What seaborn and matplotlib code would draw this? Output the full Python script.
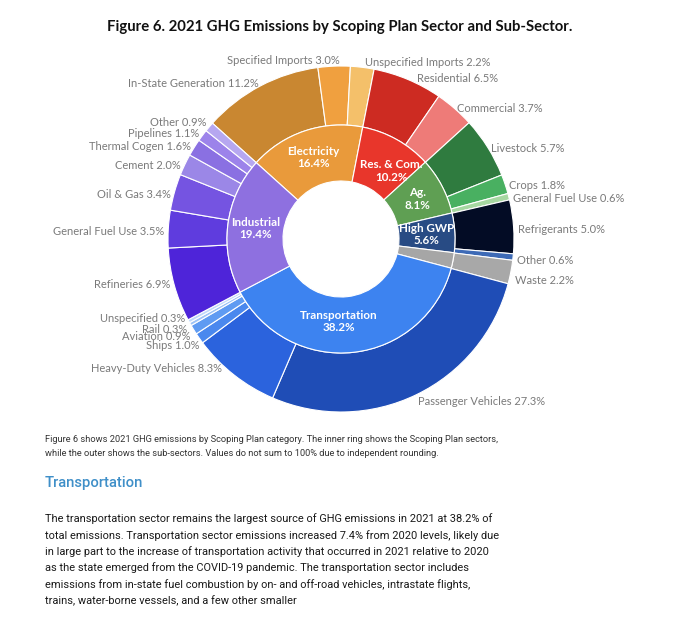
import numpy as np
import pandas as pd
import matplotlib.pyplot as plt
import seaborn as sns

# inner ring: Scoping Plan sectors (clockwise order)
sectors = ['Electricity', 'Res. & Com.', 'Ag.', 'High GWP', 'Waste', 'Transportation', 'Industrial']
sector_pct = [16.4, 10.2, 8.1, 5.6, 2.2, 38.2, 19.4]
sector_colors = ['#E99A3B', '#E8362B', '#5F9F53', '#284B84', '#A6A6A6', '#3D83F0', '#8E70E0']

# outer ring: sub-sectors (same clockwise order)
sub_sectors = ['In-State Generation', 'Specified Imports', 'Unspecified Imports',
               'Residential', 'Commercial',
               'Livestock', 'Crops', 'General Fuel Use',
               'Refrigerants', 'Other',
               'Waste',
               'Passenger Vehicles', 'Heavy-Duty Vehicles', 'Ships', 'Aviation', 'Rail', 'Unspecified',
               'Refineries', 'General Fuel Use', 'Oil & Gas', 'Cement', 'Thermal Cogen', 'Pipelines', 'Other']
sub_pct = [11.2, 3.0, 2.2,
           6.5, 3.7,
           5.7, 1.8, 0.6,
           5.0, 0.6,
           2.2,
           27.3, 8.3, 1.0, 0.9, 0.3, 0.3,
           6.9, 3.5, 3.4, 2.0, 1.6, 1.1, 0.9]
sub_colors = ['#C98731', '#F0A03F', '#F4C06A',
              '#CD2B22', '#EE7B78',
              '#2F7B3F', '#49B061', '#A6D7A1',
              '#030C25', '#3D6AB6',
              '#A8A8A8',
              '#1F4DB6', '#2B63DD', '#4A88EE', '#5F9BF2', '#9DC3F6', '#BFD9FA',
              '#4E24D9', '#5F3CDE', '#7554E1', '#9B87E7', '#8A70E2', '#9C83EA', '#B6A7F0']

title = 'Figure 6. 2021 GHG Emissions by Scoping Plan Sector and Sub-Sector.'
caption = ['Figure 6 shows 2021 GHG emissions by Scoping Plan category. The inner ring shows the Scoping Plan sectors,',
           'while the outer shows the sub-sectors. Values do not sum to 100% due to independent rounding.']
heading = 'Transportation'
paragraph = ['The transportation sector remains the largest source of GHG emissions in 2021 at 38.2% of',
             'total emissions. Transportation sector emissions increased 7.4% from 2020 levels, likely due',
             'in large part to the increase of transportation activity that occurred in 2021 relative to 2020',
             'as the state emerged from the COVID-19 pandemic. The transportation sector includes',
             'emissions from in-state fuel combustion by on- and off-road vehicles, intrastate flights,',
             'trains, water-borne vessels, and a few other smaller']

W, H = 680, 633
CX, CY = 341, 239          # chart centre, pixels from top
R_OUT, R_MID, R_IN = 173, 114, 58
R_LAB = 177

sns.set_theme(style='white')
plt.rcParams['font.family'] = ['Lato', 'DejaVu Sans']
body_font = 'Roboto'

fig = plt.figure(figsize=(W / 100, H / 100), dpi=100)
ax = fig.add_axes([0, 0, 1, 1])
renderer = fig.canvas.get_renderer()


def fit_size(s, width, **kw):
    """Font size that makes s about width pixels wide."""
    t = ax.text(0, 0, s, fontsize=10, **kw)
    w = t.get_window_extent(renderer).width
    t.remove()
    return 10 * width / w


wedge_kw = dict(edgecolor='white', linewidth=0.8)
outer, _ = ax.pie(sub_pct, colors=sub_colors, startangle=138, counterclock=False,
                  radius=R_OUT, center=(CX, H - CY), wedgeprops=dict(width=R_OUT - R_MID, **wedge_kw))
inner, _ = ax.pie(sector_pct, colors=sector_colors, startangle=138, counterclock=False,
                  radius=R_MID, center=(CX, H - CY), wedgeprops=dict(width=R_MID - R_IN, **wedge_kw))
ax.set_xlim(0, W)
ax.set_ylim(0, H)
ax.set_aspect('equal')
ax.axis('off')

# outer labels just outside each wedge; nudges in pixels (right, down)
lab_size = fit_size('In-State Generation 11.2%', 130)
nudge = {0: (0, -2), 1: (6, -5), 2: (2, -4), 3: (8, 0),
         10: (0, 5), 12: (-9, -13), 13: (3, 2), 14: (0, 2), 16: (0, -8), 17: (0, -5),
         21: (0, -2), 22: (0, -3), 23: (0, -5)}
for i, (w, name, pct) in enumerate(zip(outer, sub_sectors, sub_pct)):
    a = np.deg2rad((w.theta1 + w.theta2) / 2)
    dx, dy = nudge.get(i, (0, 0))
    x = CX + R_LAB * np.cos(a) + dx
    y = (H - CY - 3) + R_LAB * np.sin(a) - dy
    ax.text(x, y, f'{name} {pct:.1f}%', fontsize=lab_size, color='#7A7A7A',
            ha='left' if np.cos(a) > 0 else 'right', va='center')

# inner labels
in_size = fit_size('Transportation', 77, fontweight='bold')
in_nudge = {1: (8, 7), 5: (-12, -3)}
for i, (w, name, pct) in enumerate(zip(inner, sectors, sector_pct)):
    if name == 'Waste':
        continue
    a = np.deg2rad((w.theta1 + w.theta2) / 2)
    dx, dy = in_nudge.get(i, (0, 0))
    x = CX + 86 * np.cos(a) + dx
    y = (H - CY) + 86 * np.sin(a) - dy
    ax.text(x, y, f'{name}\n{pct:.1f}%', fontsize=in_size, color='white',
            fontweight='bold', ha='center', va='center', linespacing=1.15)

# title
t_size = fit_size(title, 466, fontweight='bold')
ax.text(W / 2, H - 27, title, fontsize=t_size, fontweight='bold', color='#111111',
        ha='center', va='center')

# caption
c_size = fit_size(caption[0], 455, family=body_font)
for k, line in enumerate(caption):
    ax.text(45, H - (439 + 14 * k), line, fontsize=c_size, family=body_font,
            color='#333333', ha='left', va='center')

# heading
h_size = fit_size(heading, 98, family='Roboto', fontweight='medium')
ax.text(45, H - 483, heading, fontsize=h_size, family='Roboto', fontweight='medium',
        color='#3F8FC8', ha='left', va='center')

# paragraph
p_size = fit_size(paragraph[0], 448, family=body_font)
for k, line in enumerate(paragraph):
    ax.text(45, H - (519 + 16.3 * k), line, fontsize=p_size, family=body_font,
            color='#1A1A1A', ha='left', va='center')

fig.savefig('out.png', dpi=100)
